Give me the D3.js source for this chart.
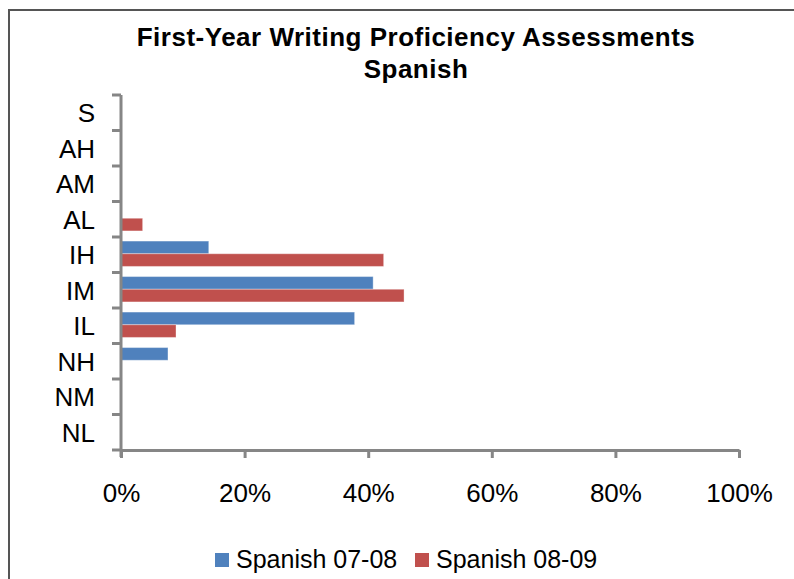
<!DOCTYPE html>
<html>
<head>
<meta charset="utf-8">
<script src="https://d3js.org/d3.v7.min.js"></script>
<style>
  body { margin: 0; background: #fff; }
  svg { display: block; font-family: "Liberation Sans", Arial, sans-serif; }
  .axis path, .axis line { stroke: #868686; stroke-width: 3; fill: none; }
  .axis text { fill: #000; font-size: 26px; }
</style>
</head>
<body>
<script>
// levels, top to bottom
var levels = ["S", "AH", "AM", "AL", "IH", "IM", "IL", "NH", "NM", "NL"];
var seriesNames = ["Spanish 07-08", "Spanish 08-09"];
var colors = ["#4F81BD", "#C0504D"];
// percent of students per level
var spanish0708 = [0, 0, 0, 0, 14.2, 40.8, 37.8, 7.6, 0, 0];
var spanish0809 = [0, 0, 0, 3.5, 42.5, 45.8, 8.9, 0, 0, 0];
var xTicks = [0, 20, 40, 60, 80, 100];

var W = 794, H = 579;
var svg = d3.select("body").append("svg").attr("width", W).attr("height", H);

// outer frame
svg.append("rect")
  .attr("x", 9).attr("y", 10).attr("width", 820).attr("height", 620)
  .attr("fill", "none").attr("stroke", "#555").attr("stroke-width", 2);

svg.append("text").attr("x", 416).attr("y", 46)
  .attr("text-anchor", "middle").attr("font-weight", "bold").attr("font-size", 26)
  .attr("letter-spacing", 0.5)
  .text("First-Year Writing Proficiency Assessments");
svg.append("text").attr("x", 416).attr("y", 78)
  .attr("text-anchor", "middle").attr("font-weight", "bold").attr("font-size", 26)
  .attr("letter-spacing", 0.5)
  .text("Spanish");

var x = d3.scaleLinear().domain([0, 100]).range([121, 739]);
var y = d3.scaleBand().domain(levels).range([95, 450]);
var sub = d3.scaleBand().domain(seriesNames)
  .range([0, y.bandwidth()]).paddingOuter(0.4);

var rows = levels.map(function(l, i) {
  return { level: l, vals: [spanish0708[i], spanish0809[i]] };
});

var g = svg.selectAll(".row").data(rows).enter().append("g")
  .attr("transform", function(d) { return "translate(0," + y(d.level) + ")"; });
g.selectAll("rect").data(function(d) { return d.vals; }).enter().append("rect")
  .attr("x", x(0))
  .attr("y", function(d, i) { return sub(seriesNames[i]) - 1; })
  .attr("width", function(d) { return x(d) - x(0); })
  .attr("height", sub.bandwidth())
  .attr("fill", function(d, i) { return colors[i]; })
  .attr("stroke", "rgba(255,255,255,0.35)").attr("stroke-width", 1);

// y axis with ticks between categories
var yAxis = svg.append("g").attr("class", "axis");
yAxis.append("line").attr("x1", x(0)).attr("x2", x(0)).attr("y1", 95).attr("y2", 457);
var edges = levels.map(function(l) { return y(l); }).concat([450]);
yAxis.selectAll(".yt").data(edges).enter().append("line")
  .attr("x1", x(0) - 9).attr("x2", x(0)).attr("y1", function(d) { return d; }).attr("y2", function(d) { return d; });
yAxis.selectAll("text").data(levels).enter().append("text")
  .attr("x", 95).attr("y", function(d) { return y(d) + y.bandwidth() / 2; })
  .attr("dy", "0.36em").attr("text-anchor", "end")
  .text(function(d) { return d; });

var xAxis = d3.axisBottom(x).tickValues(xTicks)
  .tickFormat(function(d) { return d + "%"; })
  .tickSize(8).tickPadding(26).tickSizeOuter(0);
svg.append("g").attr("class", "axis")
  .attr("transform", "translate(0,450)")
  .call(xAxis)
  .selectAll("text").attr("font-size", null).attr("font-family", null);

// legend
var leg = svg.append("g");
var legX = [215, 415];
seriesNames.forEach(function(n, i) {
  leg.append("rect").attr("x", legX[i]).attr("y", 553).attr("width", 14).attr("height", 14).attr("fill", colors[i]);
  leg.append("text").attr("x", legX[i] + 21).attr("y", 568).attr("font-size", 25).text(n);
});
</script>
</body>
</html>
